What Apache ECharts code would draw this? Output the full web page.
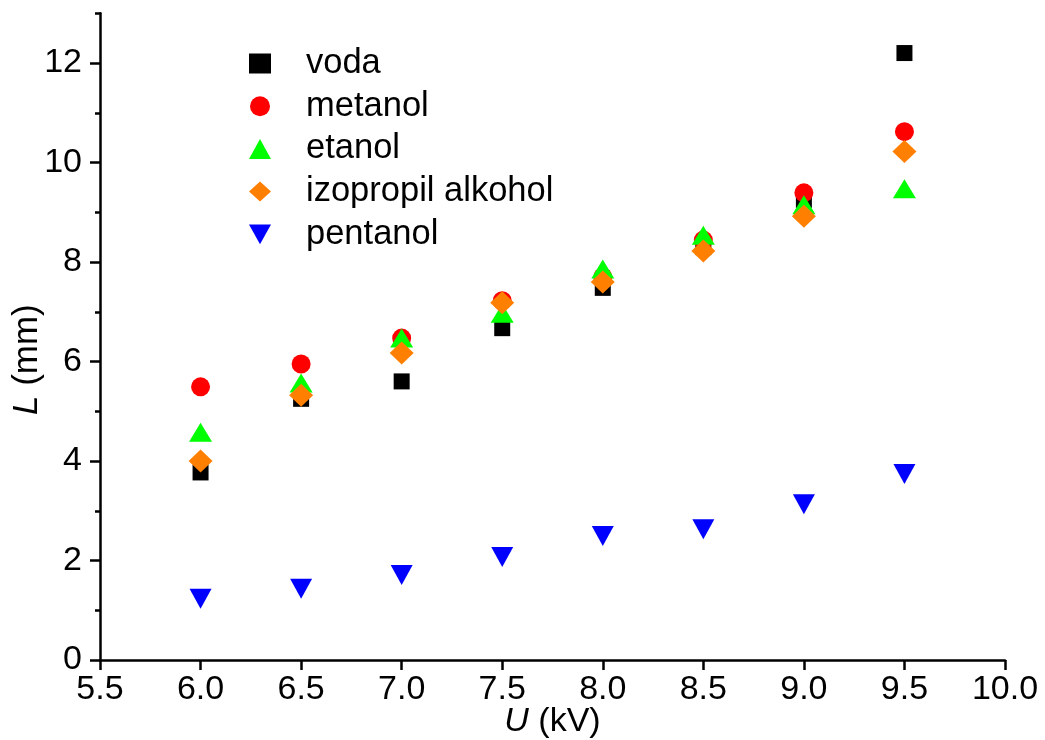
<!DOCTYPE html>
<html>
<head>
<meta charset="utf-8">
<script src="https://cdn.jsdelivr.net/npm/echarts@6/dist/echarts.min.js"></script>
<style>html,body{margin:0;padding:0;background:#fff}#c{width:1045px;height:740px}</style>
</head>
<body>
<div id="c"></div>
<script>
var U = [6.0, 6.5, 7.0, 7.5, 8.0, 8.5, 9.0, 9.5];
var voda = [3.77, 5.25, 5.6, 6.67, 7.48, 8.3, 9.25, 12.2];
var metanol = [5.49, 5.95, 6.47, 7.22, 7.7, 8.44, 9.39, 10.62];
var etanol = [4.58, 5.57, 6.47, 6.97, 7.86, 8.54, 9.15, 9.47];
var izopropil = [4.0, 5.32, 6.17, 7.18, 7.6, 8.22, 8.92, 10.22];
var pentanol = [1.23, 1.43, 1.71, 2.07, 2.49, 2.63, 3.13, 3.74];
var xTicks = [5.5, 6.0, 6.5, 7.0, 7.5, 8.0, 8.5, 9.0, 9.5, 10.0];
var yMajor = [0, 2, 4, 6, 8, 10, 12];
var yMinor = [1, 3, 5, 7, 9, 11, 13];

function pairs(ys) { return U.map(function (x, i) { return [x, ys[i]]; }); }

var FONT = '"Liberation Sans", Arial, sans-serif';
var chart = echarts.init(document.getElementById('c'));
function ser(name, data, symbol, size, color) {
  return {
    name: name, type: 'scatter', data: pairs(data), symbol: symbol, symbolSize: size,
    itemStyle: { color: color, opacity: 1 }, emphasis: { disabled: true }
  };
}
chart.setOption({
  animation: false,
  backgroundColor: '#fff',
  textStyle: { fontFamily: FONT },
  grid: { left: 100, right: 40, top: 13.25, bottom: 80, containLabel: false, outerBoundsMode: 'none' },
  legend: {
    orient: 'vertical', left: 244, top: 41, itemGap: 7.7,
    itemWidth: 22, itemHeight: 20,
    textStyle: { fontFamily: FONT, fontSize: 34.5, color: '#000', lineHeight: 33, padding: [0, 0, 0, 30] },
    data: ['voda', 'metanol', 'etanol', 'izopropil alkohol', 'pentanol']
  },
  xAxis: {
    type: 'value', min: 5.5, max: 10, interval: 0.5,
    name: '{i|U} (kV)', nameLocation: 'middle', nameGap: 45, nameMoveOverlap: false,
    nameTextStyle: { fontFamily: FONT, fontSize: 34, color: '#000',
      rich: { i: { fontStyle: 'italic', fontFamily: FONT, fontSize: 34, color: '#000' } } },
    axisLine: { show: true, onZero: false, lineStyle: { color: '#000', width: 2.5 } },
    axisTick: { show: true, inside: false, length: 10, lineStyle: { color: '#000', width: 2.5 } },
    axisLabel: { fontFamily: FONT, fontSize: 34, color: '#000', margin: 13,
      customValues: xTicks, formatter: function (v) { return v.toFixed(1); } },
    splitLine: { show: false }
  },
  yAxis: [{
    type: 'value', min: 0, max: 13, interval: 1, position: 'left',
    name: '{i|L} (mm)', nameLocation: 'middle', nameGap: 55, nameRotate: 90, nameMoveOverlap: false,
    nameTextStyle: { fontFamily: FONT, fontSize: 35, color: '#000', padding: [0, 46, 0, 0],
      rich: { i: { fontStyle: 'italic', fontFamily: FONT, fontSize: 35, color: '#000' } } },
    axisLine: { show: true, onZero: false, lineStyle: { color: '#000', width: 2.5 } },
    axisTick: { show: true, inside: false, length: 10, customValues: yMajor, lineStyle: { color: '#000', width: 2.5 } },
    axisLabel: { fontFamily: FONT, fontSize: 34, color: '#000', margin: 18,
      customValues: yMajor },
    splitLine: { show: false }
  }, {
    type: 'value', min: 0, max: 13, interval: 1, position: 'left', offset: 0,
    axisLine: { show: false, onZero: false },
    axisTick: { show: true, inside: false, length: 5, customValues: yMinor, lineStyle: { color: '#000', width: 2.5 } },
    axisLabel: { show: false },
    splitLine: { show: false }
  }],
  series: [
    ser('voda', voda, 'rect', 16, '#000000'),
    ser('metanol', metanol, 'circle', 19, '#ff0000'),
    ser('etanol', etanol, 'triangle', [23, 19], '#00ff00'),
    ser('izopropil alkohol', izopropil, 'diamond', [24, 23], '#ff8000'),
    ser('pentanol', pentanol, 'path://M0,0L2,0L1,1.8Z', [22, 20], '#0000ff')
  ]
});
</script>
</body>
</html>
